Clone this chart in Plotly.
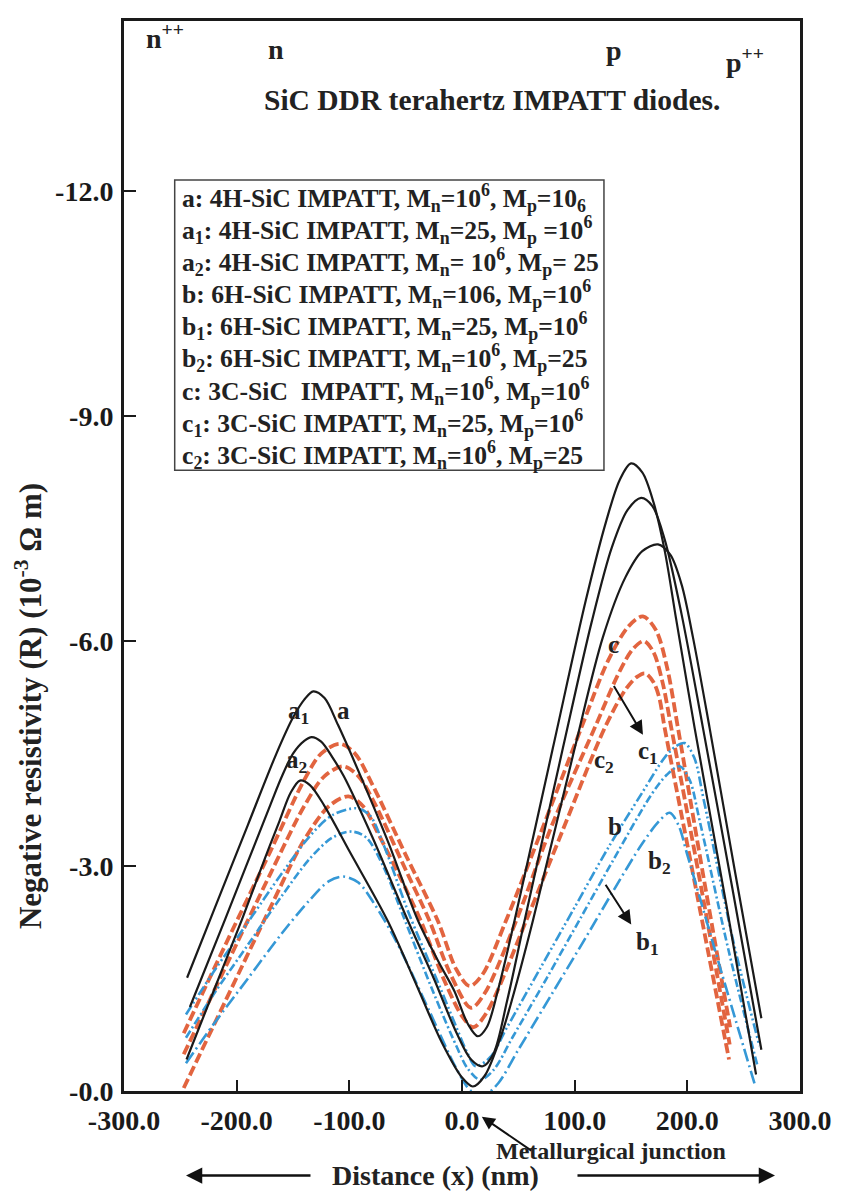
import plotly.graph_objects as go

# ---------------- data (distance in nm, negative resistivity magnitude in 1e-3 ohm m) -------------
x_a1 = [-244, -220, -190, -165, -150, -140, -132, -122, -110, -90, -65, -39, -20, -6.7, 5, 14, 22, 32, 46.6, 80.6, 110, 128, 140, 150, 160, 170, 180, 190, 206.5, 235, 261]
R_a1 = [1.51, 2.42, 3.55, 4.49, 4.98, 5.22, 5.33, 5.24, 4.88, 4.2, 3.3, 2.27, 1.7, 1.33, 0.9, 0.73, 0.85, 1.35, 2.27, 4.57, 6.55, 7.6, 8.15, 8.37, 8.25, 7.85, 7.2, 6.3, 4.84, 2.45, 0.22]

x_a = [-241.5, -210, -170, -160, -150, -140, -133.4, -125, -115, -105, -80, -48, -25, -5, 8, 18.5, 28, 40, 55.5, 89.5, 115, 133, 147, 159, 169, 180, 195, 213.9, 240, 265.7]
R_a = [1.12, 2.3, 3.82, 4.19, 4.5, 4.67, 4.72, 4.66, 4.45, 4.2, 3.4, 2.27, 1.5, 0.78, 0.42, 0.33, 0.5, 1.2, 2.27, 4.57, 6.25, 7.25, 7.75, 7.91, 7.8, 7.35, 6.35, 4.84, 2.7, 0.55]

x_a2 = [-244.5, -220, -195, -175, -162, -152, -143.8, -135, -122, -100, -66, -40, -18, 0, 9.6, 20, 35, 45, 62.9, 100, 125, 145, 160, 174, 185, 195, 205, 219.8, 242, 265.7]
R_a2 = [0.42, 1.35, 2.3, 3.1, 3.6, 3.98, 4.14, 4.08, 3.8, 3.2, 2.27, 1.4, 0.65, 0.18, 0.06, 0.2, 0.75, 1.25, 2.27, 4.57, 6.05, 6.85, 7.2, 7.29, 7.15, 6.75, 6.05, 4.84, 2.95, 0.97]

x_c = [-247, -210, -170, -140, -125, -108.3, -95, -80, -50, -21.5, -5, 6.7, 18, 39, 70, 105.8, 130, 148, 160.6, 172, 182, 191.7, 215, 238]
R_c = [0.77, 1.95, 3.2, 4.15, 4.5, 4.63, 4.5, 4.1, 3.15, 2.27, 1.62, 1.40, 1.55, 2.27, 3.45, 4.84, 5.75, 6.2, 6.33, 6.15, 5.65, 4.84, 2.8, 0.85]

x_c1 = [-247, -210, -170, -140, -122, -105.3, -92, -78, -50, -28.9, -10, 8, 20, 48.1, 80, 117.7, 140, 152, 161.5, 170, 178, 185.8, 210, 237.6]
R_c1 = [0.49, 1.65, 2.9, 3.8, 4.2, 4.33, 4.2, 3.85, 2.95, 2.27, 1.55, 1.11, 1.3, 2.27, 3.55, 4.84, 5.6, 5.9, 6.0, 5.85, 5.45, 4.84, 2.9, 0.62]

x_c2 = [-247, -210, -170, -140, -118, -100.8, -88, -75, -50, -36.6, -15, 0, 10, 22, 56.9, 90, 126.6, 145, 155, 162.5, 170, 175, 179.9, 205, 237]
R_c2 = [0.04, 1.2, 2.45, 3.35, 3.8, 3.93, 3.8, 3.45, 2.7, 2.27, 1.45, 1.0, 0.85, 1.05, 2.27, 3.5, 4.84, 5.35, 5.52, 5.57, 5.45, 5.25, 4.84, 2.9, 0.42]

x_b = [-245, -220, -190, -160, -135, -115, -93.4, -82, -70, -46.7, -20, -5, 5, 12, 25, 40, 70, 100, 130, 160, 180, 190, 197.6, 206, 215, 240, 264]
R_b = [1.02, 1.6, 2.25, 2.9, 3.4, 3.68, 3.77, 3.68, 3.3, 2.35, 1.4, 0.85, 0.5, 0.33, 0.45, 0.85, 1.65, 2.45, 3.25, 3.98, 4.45, 4.6, 4.64, 4.45, 3.85, 2.05, 0.6]

x_b1 = [-245, -220, -190, -160, -135, -115, -97.9, -85, -70, -52.6, -25, -5, 5, 16, 28, 45, 75, 105, 135, 168, 182, 193.2, 202, 211, 237, 262]
R_b1 = [0.71, 1.3, 1.95, 2.6, 3.1, 3.38, 3.46, 3.38, 3.0, 2.35, 1.3, 0.6, 0.3, 0.15, 0.28, 0.72, 1.5, 2.3, 3.1, 3.95, 4.22, 4.33, 4.15, 3.6, 1.85, 0.35]

x_b2 = [-245, -220, -190, -160, -135, -118, -105.3, -92, -78, -58.5, -30, -5, 8, 20, 32, 50, 80, 110, 135.5, 160, 175, 184.3, 192, 200, 230, 260]
R_b2 = [0.37, 0.9, 1.5, 2.1, 2.55, 2.8, 2.86, 2.78, 2.5, 2.0, 1.1, 0.3, 0.0, -0.05, 0.1, 0.55, 1.3, 2.05, 2.7, 3.3, 3.6, 3.71, 3.55, 3.15, 1.6, 0.08]

x_tickvals = [-300, -200, -100, 0, 100, 200, 300]
x_ticktext = ["-300.0", "-200.0", "-100.0", "0.0", "100.0", "200.0", "300.0"]
y_tickvals = [0, -3, -6, -9, -12]
y_ticktext = ["-0.0", "-3.0", "-6.0", "-9.0", "-12.0"]

legend_lines = [
    "a: 4H-SiC IMPATT, M<sub>n</sub>=10<sup>6</sup>, M<sub>p</sub>=10<sub>6</sub>",
    "a<sub>1</sub>: 4H-SiC IMPATT, M<sub>n</sub>=25, M<sub>p</sub> =10<sup>6</sup>",
    "a<sub>2</sub>: 4H-SiC IMPATT, M<sub>n</sub>= 10<sup>6</sup>, M<sub>p</sub>= 25",
    "b: 6H-SiC IMPATT, M<sub>n</sub>=106, M<sub>p</sub>=10<sup>6</sup>",
    "b<sub>1</sub>: 6H-SiC IMPATT, M<sub>n</sub>=25, M<sub>p</sub>=10<sup>6</sup>",
    "b<sub>2</sub>: 6H-SiC IMPATT, M<sub>n</sub>=10<sup>6</sup>, M<sub>p</sub>=25",
    "c: 3C-SiC  IMPATT, M<sub>n</sub>=10<sup>6</sup>, M<sub>p</sub>=10<sup>6</sup>",
    "c<sub>1</sub>: 3C-SiC IMPATT, M<sub>n</sub>=25, M<sub>p</sub>=10<sup>6</sup>",
    "c<sub>2</sub>: 3C-SiC IMPATT, M<sub>n</sub>=10<sup>6</sup>, M<sub>p</sub>=25",
]

# ---------------- styling ----------------
FONT = "Liberation Serif"
BLACK = "#1a1a1a"
RED = "#e2643f"
BLUE = "#3598d6"

series = [
    ("a1", x_a1, R_a1, BLACK, 2.2, "solid"),
    ("a", x_a, R_a, BLACK, 2.2, "solid"),
    ("a2", x_a2, R_a2, BLACK, 2.2, "solid"),
    ("c", x_c, R_c, RED, 3.8, "10px,4px"),
    ("c1", x_c1, R_c1, RED, 3.8, "10px,4px"),
    ("c2", x_c2, R_c2, RED, 3.8, "10px,4px"),
    ("b", x_b, R_b, BLUE, 2.6, "10px,3px,2px,3px,2px,3px"),
    ("b1", x_b1, R_b1, BLUE, 2.6, "8px,3px,2px,3px"),
    ("b2", x_b2, R_b2, BLUE, 2.6, "13px,4px,2px,4px"),
]

fig = go.Figure()
# draw red and blue first, black on top
for name, xs, rs, col, w, dash in series[3:] + series[:3]:
    fig.add_trace(go.Scatter(
        x=xs, y=[-r for r in rs], mode="lines", name=name,
        line=dict(color=col, width=w, dash=dash, shape="spline", smoothing=0.9),
        showlegend=False, hoverinfo="skip"))

fig.update_layout(
    width=844, height=1193,
    margin=dict(l=116, r=52, t=13, b=110),
    paper_bgcolor="white", plot_bgcolor="white",
    font=dict(family=FONT, color=BLACK),
    xaxis=dict(range=[-300, 300], tickvals=x_tickvals, ticktext=x_ticktext,
               showgrid=False, zeroline=False, showline=True, mirror=True, automargin=False,
               linecolor=BLACK, linewidth=3, ticks="inside", ticklen=11, tickwidth=2,
               tickcolor=BLACK, ticklabelstandoff=2,
               tickfont=dict(family=FONT, size=28, weight="bold", color=BLACK)),
    yaxis=dict(range=[0, -14.27], tickvals=y_tickvals, ticktext=y_ticktext,
               showgrid=False, zeroline=False, showline=True, mirror=True, automargin=False,
               linecolor=BLACK, linewidth=3, ticks="inside", ticklen=12, tickwidth=2,
               tickcolor=BLACK, ticklabelstandoff=2,
               tickfont=dict(family=FONT, size=28, weight="bold", color=BLACK)),
)

# legend box
fig.add_shape(type="rect", xref="x", yref="y", x0=-255, x1=126, y0=-8.28, y1=-12.15,
              line=dict(color="#444", width=1.5), fillcolor="white", layer="below")
legend_y = [11.91, 11.48, 11.05, 10.63, 10.2, 9.77, 9.34, 8.91, 8.48]
for txt, ly in zip(legend_lines, legend_y):
    fig.add_annotation(x=-250, y=-ly, xref="x", yref="y", text=txt, showarrow=False,
                       xanchor="left", yanchor="middle",
                       font=dict(family=FONT, size=25.6, weight="bold", color="#222"))

def label(text, x, y, size=25, **kw):
    fig.add_annotation(x=x, y=y, xref="x", yref="y", text=text, showarrow=False,
                       font=dict(family=FONT, size=size, weight="bold", color="#222"), **kw)

# region labels and title
label("n<sup>++</sup>", -264, -14.06, size=28)
label("n", -165, -13.89, size=28)
label("p", 135, -13.88, size=28)
label("p<sup>++</sup>", 251, -13.74, size=28)
label("SiC DDR terahertz IMPATT diodes.", 27, -13.22, size=29.5)

# curve labels
label("a<sub>1</sub>", -145, -5.05)
label("a", -105, -5.08)
label("a<sub>2</sub>", -147, -4.4)
label("c", 134.5, -5.95)
label("c<sub>1</sub>", 165, -4.52)
label("c<sub>2</sub>", 126, -4.4)
label("b", 135.5, -3.53)
label("b<sub>2</sub>", 175, -3.05)
label("b<sub>1</sub>", 165, -1.97)

# arrows inside plot
for (hx, hy, tx, ty) in [(160.6, -4.75, 134, -5.42), (150.2, -2.22, 126.6, -2.77)]:
    fig.add_annotation(x=hx, y=hy, ax=tx, ay=ty, xref="x", yref="y", axref="x", ayref="y",
                       text="", showarrow=True, arrowhead=2, arrowsize=1.4, arrowwidth=2,
                       arrowcolor="#111")

# metallurgical junction
fig.add_annotation(x=17.6, y=-0.024, xref="x", yref="paper", ax=51, ay=35,
                   text="", showarrow=True, arrowhead=2, arrowsize=1.3, arrowwidth=2,
                   arrowcolor="#111")
fig.add_annotation(x=132, y=-0.056, xref="x", yref="paper", text="Metallurgical junction",
                   showarrow=False, yanchor="middle",
                   font=dict(family=FONT, size=24, weight="bold", color="#222"))

# x-axis title with arrows
fig.add_annotation(x=0.4615, y=-0.079, xref="paper", yref="paper", text="Distance (x) (nm)",
                   showarrow=False, yanchor="middle",
                   font=dict(family=FONT, size=28, weight="bold", color="#222"))
fig.add_annotation(x=0.0917, y=-0.079, xref="paper", yref="paper", ax=126, ay=0,
                   text="", showarrow=True, arrowhead=2, arrowsize=1.3, arrowwidth=2.5,
                   arrowcolor="#111")
fig.add_annotation(x=0.963, y=-0.079, xref="paper", yref="paper", ax=-199, ay=0,
                   text="", showarrow=True, arrowhead=2, arrowsize=1.3, arrowwidth=2.5,
                   arrowcolor="#111")

# y-axis title
fig.add_annotation(x=-0.172, y=0.36, xref="paper", yref="paper", textangle=-90,
                   text="Negative resistivity (R) (10<sup>-3</sup> Ω m)", showarrow=False,
                   font=dict(family=FONT, size=31, weight="bold", color="#222"))

fig.write_html("out.html")
